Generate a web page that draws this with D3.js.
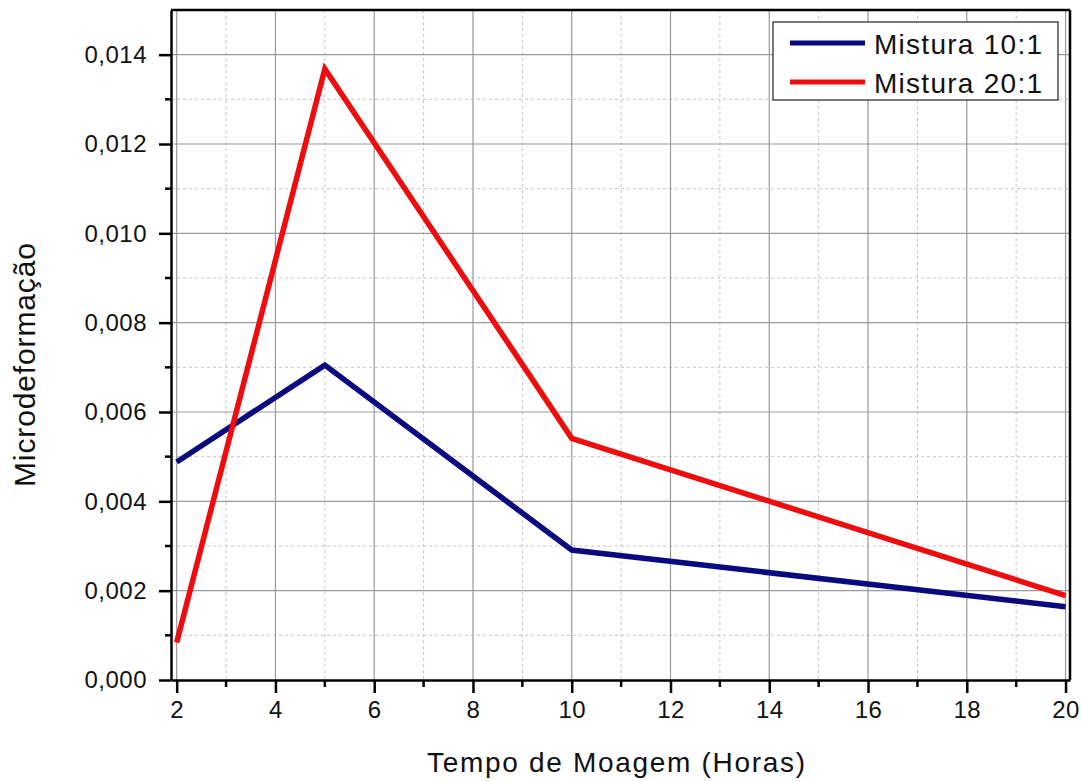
<!DOCTYPE html>
<html>
<head>
<meta charset="utf-8">
<script src="https://cdn.jsdelivr.net/npm/d3@7"></script>
<style>
  html, body { margin: 0; padding: 0; background: #fff; }
  svg { display: block; font-family: "Liberation Sans", Arial, sans-serif; }
</style>
</head>
<body>
<svg id="chart" width="1084" height="781"></svg>
<script>
// Milling time (hours) and microstrain for each mixture ratio
const hours = [2, 5, 10, 20];
const mix10 = [0.00488, 0.00705, 0.00291, 0.00164];
const mix20 = [0.00084, 0.01368, 0.00541, 0.00189];
const seriesNames = ["Mistura 10:1", "Mistura 20:1"];
const seriesColors = ["#0a0a80", "#ee0c0c"];
const xTicks = [2, 4, 6, 8, 10, 12, 14, 16, 18, 20];
const yTicks = [0, 0.002, 0.004, 0.006, 0.008, 0.010, 0.012, 0.014];

(function () {
const svg = d3.select("#chart");
const pLeft = 171, pRight = 1070, pTop = 10, pBottom = 680;

const x = d3.scaleLinear().domain([1.885, 20.09]).range([pLeft, pRight]);
const y = d3.scaleLinear().domain([0, 0.015]).range([pBottom, pTop]);

const fmtY = v => d3.format(".3f")(v).replace(".", ",");

// minor tick positions between majors
const xMinor = d3.range(3, 20, 2);
const yMinor = d3.range(0.001, 0.0145, 0.002);

const grid = svg.append("g");
// minor grid (dashed)
grid.selectAll("line.xm").data(xMinor).join("line")
  .attr("x1", d => x(d)).attr("x2", d => x(d)).attr("y1", pTop).attr("y2", pBottom)
  .attr("stroke", "#c4c4c4").attr("stroke-width", 1).attr("stroke-dasharray", "3,3");
grid.selectAll("line.ym").data(yMinor).join("line")
  .attr("y1", d => y(d)).attr("y2", d => y(d)).attr("x1", pLeft).attr("x2", pRight)
  .attr("stroke", "#c4c4c4").attr("stroke-width", 1).attr("stroke-dasharray", "3,3");
// major grid (solid)
grid.selectAll("line.xM").data(xTicks).join("line")
  .attr("x1", d => x(d)).attr("x2", d => x(d)).attr("y1", pTop).attr("y2", pBottom)
  .attr("stroke", "#9a9a9a").attr("stroke-width", 1.2);
grid.selectAll("line.yM").data(yTicks.slice(1)).join("line")
  .attr("y1", d => y(d)).attr("y2", d => y(d)).attr("x1", pLeft).attr("x2", pRight)
  .attr("stroke", "#9a9a9a").attr("stroke-width", 1.2);

// series lines
const line = d3.line().x((d, i) => x(hours[i])).y(d => y(d));
[mix10, mix20].forEach((vals, k) => {
  svg.append("path").datum(vals)
    .attr("d", line)
    .attr("fill", "none")
    .attr("stroke", seriesColors[k])
    .attr("stroke-width", 5.5)
    .attr("stroke-linejoin", "miter");
});

// frame (top and right)
svg.append("line").attr("x1", pLeft).attr("x2", pRight).attr("y1", pTop).attr("y2", pTop)
  .attr("stroke", "#000").attr("stroke-width", 2.5);
svg.append("line").attr("x1", pRight).attr("x2", pRight).attr("y1", pTop).attr("y2", pBottom)
  .attr("stroke", "#000").attr("stroke-width", 2.5);

// axes
const xAxis = svg.append("g").attr("transform", `translate(0,${pBottom})`)
  .call(d3.axisBottom(x).tickValues(xTicks).tickSize(13).tickSizeOuter(0).tickPadding(8));
xAxis.append("g").selectAll("line").data(xMinor).join("line")
  .attr("x1", d => x(d)).attr("x2", d => x(d)).attr("y1", 0).attr("y2", 7)
  .attr("stroke", "#000").attr("stroke-width", 2.5);

const yAxis = svg.append("g").attr("transform", `translate(${pLeft},0)`)
  .call(d3.axisLeft(y).tickValues(yTicks).tickFormat(fmtY).tickSize(12).tickSizeOuter(0).tickPadding(12));
yAxis.append("g").selectAll("line").data(yMinor).join("line")
  .attr("y1", d => y(d)).attr("y2", d => y(d)).attr("x1", 0).attr("x2", -6)
  .attr("stroke", "#000").attr("stroke-width", 2.5);

[xAxis, yAxis].forEach(a => {
  a.select(".domain").attr("stroke", "#000").attr("stroke-width", 2.5);
  a.selectAll(".tick line").attr("stroke", "#000").attr("stroke-width", 2.5);
  a.selectAll(".tick text").attr("fill", "#111")
    .style("font-size", "24px").style("font-family", "'Liberation Sans', Arial, sans-serif")
    .attr("letter-spacing", "0.5px");
});
xAxis.selectAll(".tick text").attr("dy", "0.71em");

// axis titles
svg.append("text")
  .attr("x", 616).attr("y", 772)
  .attr("text-anchor", "middle")
  .attr("textLength", 378).attr("lengthAdjust", "spacing")
  .style("font-size", "28px").attr("fill", "#111")
  .text("Tempo de Moagem (Horas)");

svg.append("text")
  .attr("transform", "translate(35,365) rotate(-90)")
  .attr("text-anchor", "middle")
  .attr("textLength", 244).attr("lengthAdjust", "spacing")
  .style("font-size", "30px").attr("fill", "#111")
  .text("Microdeformação");

// legend
const lg = svg.append("g");
lg.append("rect").attr("x", 773).attr("y", 22).attr("width", 285).attr("height", 78)
  .attr("fill", "#fff").attr("stroke", "#222").attr("stroke-width", 1.2);
const legY = [43, 82];
seriesNames.forEach((name, i) => {
  lg.append("line").attr("x1", 790).attr("x2", 865).attr("y1", legY[i]).attr("y2", legY[i])
    .attr("stroke", seriesColors[i]).attr("stroke-width", 5);
  lg.append("text").attr("x", 874).attr("y", legY[i] + 10.5)
    .attr("textLength", 168).attr("lengthAdjust", "spacing")
    .style("font-size", "28px").attr("fill", "#111")
    .text(name);
});
})();
</script>
</body>
</html>
